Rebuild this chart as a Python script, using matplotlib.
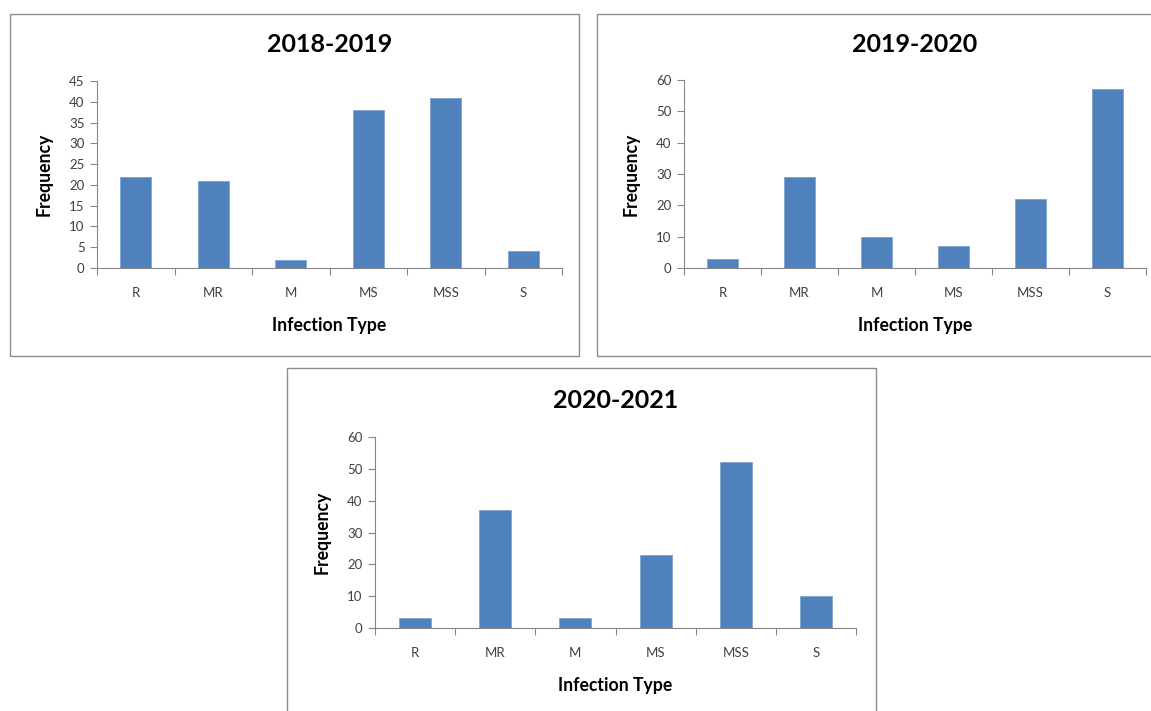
import matplotlib
matplotlib.use("Agg")
import matplotlib.pyplot as plt
from matplotlib.patches import Rectangle

plt.rcParams['font.family'] = ['Lato', 'DejaVu Sans']

# Infection type frequencies per season
categorias = ['R', 'MR', 'M', 'MS', 'MSS', 'S']
temporadas = ['2018-2019', '2019-2020', '2020-2021']
frec_2018_2019 = [22, 21, 2, 38, 41, 4]
frec_2019_2020 = [3, 29, 10, 7, 22, 57]
frec_2020_2021 = [3, 37, 3, 23, 52, 10]
ejes_y = [(45, 5), (60, 10), (60, 10)]  # (max, step)

W, H = 1151, 711
fig = plt.figure(figsize=(W / 100, H / 100), dpi=100)

color_barra = '#4F81BD'
color_eje = '#868686'
color_marco = '#8c8c8c'


def px_rect(x0, y0, x1, y1):
    # pixel box (top-left origin) -> figure fraction
    return [x0 / W, 1 - y1 / H, (x1 - x0) / W, (y1 - y0) / H]


# chart frames
marcos = [(10, 14, 579, 356), (597, 14, 1160, 356), (287, 368, 876, 720)]
for x0, y0, x1, y1 in marcos:
    r = px_rect(x0, y0, x1, y1)
    fig.patches.append(Rectangle((r[0], r[1]), r[2], r[3], transform=fig.transFigure,
                                 fill=False, edgecolor=color_marco, linewidth=1.0))

# plot areas and title positions
areas = [(97, 81, 562, 268), (684, 80, 1146, 268), (375, 437, 856, 628)]
titulos_y = [45, 45, 400]
datos = [frec_2018_2019, frec_2019_2020, frec_2020_2021]

for temporada, valores, area, (ymax, paso), ty in zip(temporadas, datos, areas, ejes_y, titulos_y):
    ax = fig.add_axes(px_rect(*area))
    x = list(range(len(categorias)))
    ax.bar(x, valores, width=0.4, color=color_barra, edgecolor='#7fa3cf', linewidth=0.6, zorder=3)

    ax.set_xlim(-0.5, len(categorias) - 0.5)
    ax.set_ylim(0, ymax)
    ax.set_yticks(range(0, ymax + 1, paso))

    ax.set_xticks(x)
    ax.set_xticklabels(categorias)
    ax.set_xticks([i - 0.5 for i in range(len(categorias) + 1)], minor=True)
    ax.tick_params(axis='x', which='major', length=0, pad=14, labelsize=9.5, labelcolor='#404040')
    ax.tick_params(axis='x', which='minor', length=5, width=0.8, color=color_eje, direction='out')
    ax.tick_params(axis='y', length=5, width=0.8, color=color_eje, pad=4, labelsize=9.5,
                   labelcolor='#404040')

    for lado in ['top', 'right']:
        ax.spines[lado].set_visible(False)
    for lado in ['left', 'bottom']:
        ax.spines[lado].set_color(color_eje)
        ax.spines[lado].set_linewidth(0.8)

    ax.set_xlabel('Infection Type', fontsize=12.7, fontweight='bold', labelpad=13)
    ax.set_ylabel('Frequency', fontsize=12.7, fontweight='bold', labelpad=12)

    cx = (area[0] + area[2]) / 2
    fig.text(cx / W, 1 - ty / H, temporada, ha='center', va='center',
             fontsize=18, fontweight='bold')

fig.savefig('out.png', dpi=100)
